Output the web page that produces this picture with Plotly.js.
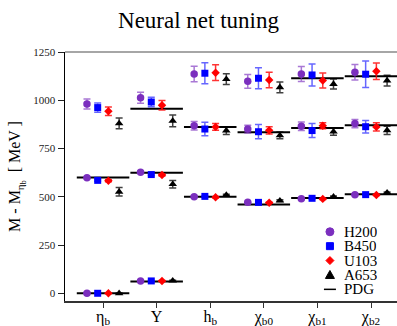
<!DOCTYPE html>
<html><head><meta charset="utf-8">
<script src="https://cdn.plot.ly/plotly-3.0.1.min.js"></script>
<style>html,body{margin:0;padding:0;background:#fff}</style>
</head><body><div id="chart" style="width:397px;height:326px"></div>
<script>
// Categories (states)
const categories = ['η<sub>b</sub>', 'Υ', 'h<sub>b</sub>', 'χ<sub>b0</sub>', 'χ<sub>b1</sub>', 'χ<sub>b2</sub>'];
const seriesNames = ['H200', 'B450', 'U103', 'A653'];
const pdgName = 'PDG';

// M - M_etab [MeV], three radial levels per channel
const h200_ground = [0, 64, 500, 471, 490, 511];
const h200_groundErr = [1, 2, 3, 3, 3, 3];
const h200_first = [599, 627, 868, 851, 865, 879];
const h200_firstErr = [5, 5, 22, 20, 22, 21];
const h200_second = [981, 1013, 1136, 1098, 1136, 1145];
const h200_secondErr = [26, 28, 40, 36, 39, 40];

const b450_ground = [0, 64, 502, 471, 492, 511];
const b450_groundErr = [1, 2, 3, 3, 3, 3];
const b450_first = [585, 615, 851, 837, 843, 863];
const b450_firstErr = [5, 5, 35, 37, 36, 32];
const b450_second = [962, 991, 1140, 1114, 1131, 1135];
const b450_secondErr = [24, 25, 54, 54, 57, 69];

const u103_ground = [0, 64, 497, 469, 489, 509];
const u103_groundErr = [1, 2, 3, 3, 3, 3];
const u103_first = [583, 613, 862, 844, 868, 862];
const u103_firstErr = [5, 5, 18, 19, 15, 21];
const u103_second = [943, 974, 1143, 1105, 1102, 1150];
const u103_secondErr = [22, 25, 41, 40, 39, 43];

const a653_ground = [0, 65, 509, 480, 500, 521];
const a653_groundErr = [1, 2, 4, 4, 4, 4];
const a653_first = [526, 565, 843, 818, 837, 844];
const a653_firstErr = [22, 19, 20, 17, 18, 21];
const a653_second = [880, 893, 1109, 1067, 1084, 1102];
const a653_secondErr = [28, 30, 28, 28, 26, 28];

// PDG experimental values
const pdg_ground = [0, 61, 500, 460, 494, 513];
const pdg_first = [600, 624, 861, 834, 856, 870];
const pdg_second = [null, 956, null, null, 1114, 1125];

const seriesData = [
  [[h200_ground, h200_groundErr], [h200_first, h200_firstErr], [h200_second, h200_secondErr]],
  [[b450_ground, b450_groundErr], [b450_first, b450_firstErr], [b450_second, b450_secondErr]],
  [[u103_ground, u103_groundErr], [u103_first, u103_firstErr], [u103_second, u103_secondErr]],
  [[a653_ground, a653_groundErr], [a653_first, a653_firstErr], [a653_second, a653_secondErr]]
];

const colors = ['#7B2FBE', '#0000FF', '#FF0000', '#000000'];
const errColors = ['rgba(123,47,190,0.65)', 'rgba(0,0,255,0.6)', 'rgba(255,0,0,0.8)', 'rgba(0,0,0,0.75)'];
const symbols = ['circle', 'square', 'diamond', 'triangle-up'];
const sizes = [7.5, 7, 6.5, 7.5];
const offsets = [-0.3, -0.1, 0.1, 0.3];
const font = 'Liberation Serif, Times New Roman, serif';

const traces = [];
// PDG lines
const px = [], py = [];
[pdg_ground, pdg_first, pdg_second].forEach(level => {
  level.forEach((v, i) => {
    if (v === null) return;
    px.push(i - 0.49, i + 0.49, null);
    py.push(v, v, null);
  });
});
traces.push({
  x: px, y: py, mode: 'lines', type: 'scatter', name: pdgName, showlegend: false,
  line: {color: '#000', width: 2}, hoverinfo: 'skip'
});

seriesData.forEach((levels, s) => {
  const x = [], y = [], e = [];
  levels.forEach(([vals, errs]) => {
    vals.forEach((v, i) => {
      x.push(i + offsets[s]); y.push(v); e.push(errs[i]);
    });
  });
  traces.push({
    x, y, type: 'scatter', mode: 'markers', name: seriesNames[s], showlegend: false,
    marker: {color: colors[s], symbol: symbols[s], size: sizes[s]},
    error_y: {type: 'data', array: e, visible: true, color: errColors[s], thickness: 1.5, width: 3.5}
  });
});

// Compact legend (drawn in layout: shapes + annotations)
const legX = 0.798, legTextX = 0.834, legTop = 0.278, legStep = 0.0578;
const legShapes = [], legAnn = [];
const symbolShape = (kind, color, ya) => {
  const base = {xref: 'paper', yref: 'paper', xsizemode: 'pixel', ysizemode: 'pixel',
    xanchor: legX, yanchor: ya, fillcolor: color, line: {color: color, width: 1}};
  if (kind === 'circle') return Object.assign(base, {type: 'circle', x0: -4, x1: 4, y0: -4, y1: 4});
  if (kind === 'square') return Object.assign(base, {type: 'rect', x0: -3.5, x1: 3.5, y0: -3.5, y1: 3.5});
  if (kind === 'diamond') return Object.assign(base, {type: 'path', path: 'M0,4L4,0L0,-4L-4,0Z'});
  if (kind === 'triangle-up') return Object.assign(base, {type: 'path', path: 'M-4.5,-3.5L4.5,-3.5L0,4.5Z'});
  return Object.assign(base, {type: 'line', x0: -6, x1: 6, y0: 0, y1: 0, line: {color: color, width: 1.5}});
};
seriesNames.concat([pdgName]).forEach((n, k) => {
  const ya = legTop - k * legStep;
  legShapes.push(symbolShape(k < 4 ? symbols[k] : 'line', k < 4 ? colors[k] : '#000', ya));
  legAnn.push({xref: 'paper', yref: 'paper', x: legTextX, y: ya, xanchor: 'left', yanchor: 'middle',
    height: 14, valign: 'middle',
    text: n, showarrow: false, font: {family: font, size: 15, color: '#000'}});
});

const layout = {
  width: 397, height: 326,
  margin: {l: 65, r: 0, t: 52, b: 25},
  paper_bgcolor: '#fff', plot_bgcolor: '#fff',
  font: {family: font, color: '#000'},
  title: {text: 'Neural net tuning', font: {family: font, size: 23, color: '#000'}, x: 0.5, xanchor: 'center', y: 0.94, yanchor: 'middle'},
  xaxis: {
    range: [-0.71, 5.485], showgrid: false, zeroline: false,
    tickmode: 'array', tickvals: categories.map((c, i) => i), ticktext: categories,
    ticks: 'outside', ticklen: 5, tickcolor: '#333', tickwidth: 1,
    ticklabelstandoff: -5,
    showline: true, linecolor: '#333', linewidth: 1.5,
    tickfont: {family: font, size: 16, color: '#000'}
  },
  yaxis: {
    range: [-40, 1250], showgrid: false, zeroline: false,
    tickvals: [0, 250, 500, 750, 1000, 1250],
    ticks: 'outside', ticklen: 6, tickcolor: '#222', tickwidth: 1,
    showline: true, linecolor: '#000', linewidth: 1.5,
    tickfont: {family: font, size: 11, color: '#222'},
    title: {text: 'M - M<sub>η<sub>b</sub></sub>  [ MeV ]', font: {family: font, size: 16, color: '#000'}, standoff: 8}
  },
  shapes: [{type: 'line', xref: 'paper', yref: 'paper', x0: 0, x1: 1, y0: 1, y1: 1, line: {color: '#888', width: 1.5}}].concat(legShapes),
  annotations: legAnn,
  showlegend: false
};

Plotly.newPlot('chart', traces, layout, {displayModeBar: false, staticPlot: true});
</script>
</body></html>
